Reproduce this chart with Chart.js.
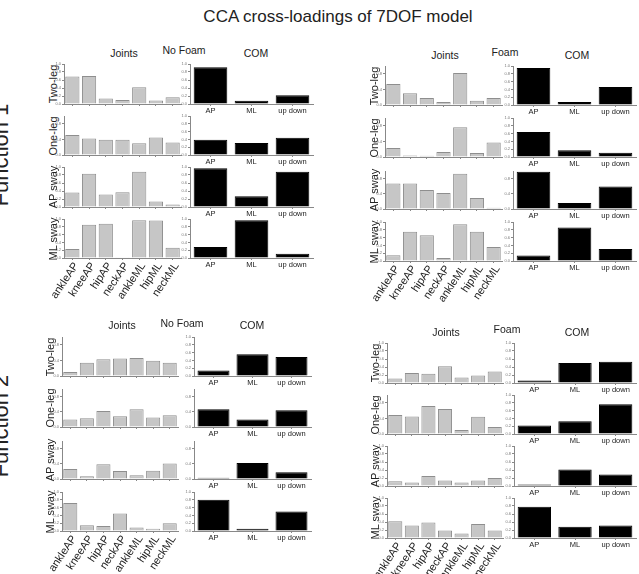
<!DOCTYPE html>
<html lang="en">
<head>
<meta charset="UTF-8">
<title>CCA cross-loadings of 7DOF model</title>
<script src="https://cdn.jsdelivr.net/npm/chart.js@4"></script>
<style>
    body { margin: 0; background: #fff; font-family: 'Liberation Sans', Arial, sans-serif; }
    #fig { position: relative; width: 639px; height: 574px; overflow: hidden; background: #fff; }
    .lbl { position: absolute; white-space: nowrap; color: #222; transform: translate(-50%, -50%); line-height: 1; }
    .rot { transform: translate(-50%, -50%) rotate(-90deg); }
    canvas { position: absolute; }
</style>
</head>
<body>
<div id="fig"></div>
<script>
    // categories
    const joints = ['ankleAP', 'kneeAP', 'hipAP', 'neckAP', 'ankleML', 'hipML', 'neckML'];
    const comVars = ['AP', 'ML', 'up down'];
    const tasks = ['Two-leg', 'One-leg', 'AP sway', 'ML sway'];

    // Function 1 - No Foam (rows: Two-leg, One-leg, AP sway, ML sway)
    const f1NoFoamJoints = [
        [0.69, 0.70, 0.14, 0.10, 0.42, 0.09, 0.17],
        [0.51, 0.42, 0.39, 0.39, 0.30, 0.45, 0.32],
        [0.36, 0.83, 0.31, 0.37, 0.88, 0.14, 0.06],
        [0.23, 0.85, 0.88, 0.02, 0.97, 0.96, 0.26]
    ];
    const f1NoFoamCom = [
        [0.92, 0.08, 0.22],
        [0.39, 0.31, 0.44],
        [0.97, 0.27, 0.88],
        [0.28, 0.97, 0.11]
    ];
    // Function 1 - Foam
    const f1FoamJoints = [
        [0.54, 0.30, 0.18, 0.08, 0.82, 0.11, 0.18],
        [0.23, 0.04, 0.03, 0.13, 0.76, 0.10, 0.37],
        [0.67, 0.67, 0.50, 0.42, 0.93, 0.29, 0.03],
        [0.15, 0.75, 0.66, 0.08, 0.94, 0.75, 0.36]
    ];
    const f1FoamCom = [
        [0.95, 0.08, 0.46],
        [0.64, 0.17, 0.11],
        [0.98, 0.16, 0.59],
        [0.14, 0.86, 0.31]
    ];
    // Function 2 - No Foam
    const f2NoFoamJoints = [
        [0.10, 0.34, 0.43, 0.45, 0.46, 0.39, 0.34],
        [0.20, 0.23, 0.42, 0.28, 0.47, 0.25, 0.31],
        [0.26, 0.07, 0.39, 0.21, 0.10, 0.22, 0.41],
        [0.72, 0.15, 0.13, 0.45, 0.09, 0.06, 0.20]
    ];
    const f2NoFoamCom = [
        [0.14, 0.56, 0.49],
        [0.47, 0.20, 0.44],
        [0.03, 0.42, 0.18],
        [0.80, 0.06, 0.50]
    ];
    // Function 2 - Foam
    const f2FoamJoints = [
        [0.11, 0.25, 0.23, 0.42, 0.14, 0.19, 0.29],
        [0.49, 0.45, 0.72, 0.64, 0.10, 0.44, 0.18],
        [0.12, 0.09, 0.25, 0.14, 0.09, 0.14, 0.20],
        [0.42, 0.31, 0.39, 0.19, 0.11, 0.35, 0.19]
    ];
    const f2FoamCom = [
        [0.06, 0.50, 0.53],
        [0.22, 0.33, 0.76],
        [0.04, 0.41, 0.29],
        [0.78, 0.28, 0.31]
    ];

    // where each block of the figure sits (plot areas in page pixels)
    const panels = [
        { cond: 'No Foam', joints: f1NoFoamJoints, com: f1NoFoamCom,
          jx: [64, 181], cx: [190, 313], rows: [[64, 104], [116, 155], [167, 207], [219, 258]],
          rowLblX: 53, heads: { joints: [124, 53], cond: [184, 50], com: [256, 53] } },
        { cond: 'Foam', joints: f1FoamJoints, com: f1FoamCom,
          jx: [385, 502], cx: [513, 636], rows: [[66, 105], [118, 157], [171, 209], [222, 261]],
          rowLblX: 374, heads: { joints: [445, 55], cond: [505, 52], com: [577, 55] } },
        { cond: 'No Foam', joints: f2NoFoamJoints, com: f2NoFoamCom,
          jx: [62, 178], cx: [194, 311], rows: [[337, 376], [389, 427], [441, 479], [492, 531]],
          rowLblX: 50, heads: { joints: [122, 325], cond: [182, 323], com: [252, 325] } },
        { cond: 'Foam', joints: f2FoamJoints, com: f2FoamCom,
          jx: [387, 503], cx: [514, 636], rows: [[343, 383], [395, 434], [446, 486], [498, 538]],
          rowLblX: 375, heads: { joints: [446, 332], cond: [507, 329], com: [577, 332] } }
    ];

    const fig = document.getElementById('fig');
    Chart.defaults.font.family = "'Liberation Sans', Arial, sans-serif";

    function addText(text, x, y, size, rotate) {
        const d = document.createElement('div');
        d.className = rotate ? 'lbl rot' : 'lbl';
        d.style.left = x + 'px';
        d.style.top = y + 'px';
        d.style.fontSize = size + 'px';
        d.textContent = text;
        fig.appendChild(d);
    }

    function makeBar(labels, values, box, opts) {
        const padL = 26, padR = 3, padT = 4, yW = 10;
        const xH = opts.showLabels ? (opts.rotate ? 44 : 12) : 3;
        const w = box.right - box.left, h = box.bottom - box.top;
        const canvas = document.createElement('canvas');
        canvas.width = padL + yW + w + padR;
        canvas.height = padT + h + xH;
        canvas.style.left = (box.left - yW - padL) + 'px';
        canvas.style.top = (box.top - padT) + 'px';
        fig.appendChild(canvas);

        // keep the plot area exactly where the box says
        const fixX = s => { s.height = xH; s.paddingLeft = 0; s.paddingRight = 0; s.paddingTop = 0; s.paddingBottom = 0; };
        const fixY = s => { s.width = yW; s.paddingLeft = 0; s.paddingRight = 0; s.paddingTop = 0; s.paddingBottom = 0; };

        new Chart(canvas.getContext('2d'), {
            type: 'bar',
            data: {
                labels: labels,
                datasets: [{
                    data: values,
                    backgroundColor: opts.fill,
                    borderColor: opts.border,
                    borderWidth: 1,
                    barPercentage: opts.barPct,
                    categoryPercentage: 1
                }]
            },
            options: {
                responsive: false,
                animation: false,
                layout: { padding: { left: padL, right: padR, top: padT, bottom: 0 } },
                plugins: { legend: { display: false }, tooltip: { enabled: false } },
                scales: {
                    x: {
                        afterFit: fixX,
                        grid: { drawOnChartArea: false, drawTicks: true, tickLength: 2, offset: false, color: '#888' },
                        border: { color: '#888' },
                        ticks: {
                            display: opts.showLabels,
                            autoSkip: false,
                            padding: 0,
                            labelOffset: opts.rotate ? 4 : 0,
                            color: '#222',
                            minRotation: opts.rotate ? 56 : 0,
                            maxRotation: opts.rotate ? 56 : 0,
                            font: { size: opts.rotate ? 11 : 7.5 }
                        }
                    },
                    y: {
                        min: 0,
                        max: 1,
                        afterFit: fixY,
                        grid: { drawOnChartArea: false, tickLength: 2, color: '#888' },
                        border: { color: '#888' },
                        ticks: { stepSize: 0.2, padding: 1, color: '#777', font: { size: 4 }, callback: v => v.toFixed(1) }
                    }
                }
            }
        });
    }

    addText('CCA cross-loadings of 7DOF model', 338, 16, 17);
    addText('Function 1', 1, 155, 22, true);
    addText('Function 2', 1, 426, 22, true);

    panels.forEach(p => {
        addText('Joints', p.heads.joints[0], p.heads.joints[1], 10.5);
        addText(p.cond, p.heads.cond[0], p.heads.cond[1], 10.5);
        addText('COM', p.heads.com[0], p.heads.com[1], 10.5);
        p.rows.forEach((r, i) => {
            addText(tasks[i], p.rowLblX, (r[0] + r[1]) / 2, 11, true);
            const last = i === tasks.length - 1;
            makeBar(joints, p.joints[i], { left: p.jx[0], right: p.jx[1], top: r[0], bottom: r[1] },
                { fill: '#c6c6c6', border: '#8e8e8e', barPct: 0.85, showLabels: last, rotate: true });
            makeBar(comVars, p.com[i], { left: p.cx[0], right: p.cx[1], top: r[0], bottom: r[1] },
                { fill: '#000', border: '#000', barPct: 0.82, showLabels: true, rotate: false });
        });
    });
</script>
</body>
</html>
